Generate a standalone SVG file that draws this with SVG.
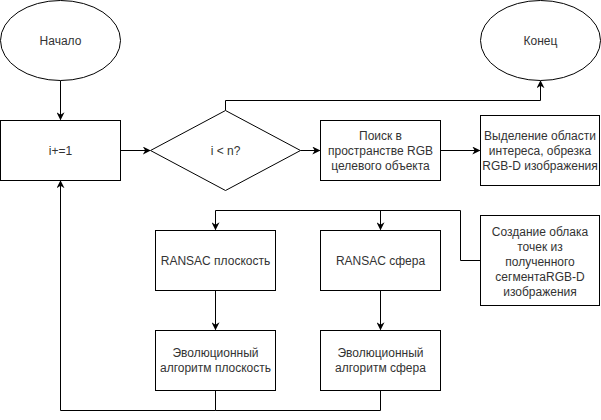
<svg xmlns="http://www.w3.org/2000/svg" width="601" height="420" viewBox="0 0 601 420">
<defs>
<marker id="arr" viewBox="0 0 10 10" refX="9" refY="5" markerWidth="8" markerHeight="8" markerUnits="userSpaceOnUse" orient="auto">
<path d="M0,0 L10,5 L0,10 L3,5 Z" fill="#000"/>
</marker>
</defs>
<style>
.s{fill:#fff;stroke:#000;stroke-width:1}
.c{fill:none;stroke:#000;stroke-width:1}
.a{marker-end:url(#arr)}
text{font-family:"Liberation Sans",Arial,sans-serif;font-size:12px;fill:#333;text-anchor:middle}
</style>
<rect width="601" height="420" fill="#fff"/>
<g id="connectors">
<path class="c a" d="M60.5,80.5 V119.5"/>
<path class="c a" d="M120.5,150.5 H150"/>
<path class="c a" d="M225.5,110.5 V100.5 H540.5 V81"/>
<path class="c a" d="M300.5,150.5 H319.5"/>
<path class="c a" d="M440.5,150.5 H479.5"/>
<path class="c" d="M480.5,260.5 H460.5 V210.5 H215.5"/>
<path class="c a" d="M215.5,210.5 V229.5"/>
<path class="c a" d="M380.5,210.5 V229.5"/>
<path class="c a" d="M215.5,290.5 V329.5"/>
<path class="c a" d="M380.5,290.5 V329.5"/>
<path class="c a" d="M215.5,390.5 V410.5 H60.5 V181"/>
<path class="c" d="M380.5,390.5 V410.5 H215.5"/>
</g>
<g id="start"><ellipse class="s" cx="60.5" cy="40.5" rx="60" ry="40"/><text x="60.5" y="44.5">Начало</text></g>
<g id="end"><ellipse class="s" cx="540.5" cy="40.5" rx="60" ry="40"/><text x="540.5" y="44.5">Конец</text></g>
<g id="inc"><rect class="s" x="0.5" y="120.5" width="120" height="60"/><text x="60.5" y="154.5">i+=1</text></g>
<g id="cond"><path class="s" d="M150.5,150.5 L225.5,110.5 L300.5,150.5 L225.5,190.5 Z"/><text x="225.5" y="154.5">i &lt; n?</text></g>
<g id="search"><rect class="s" x="320.5" y="120.5" width="120" height="60"/><text x="380.5" y="140"><tspan x="380.5">Поиск в</tspan><tspan x="380.5" dy="15">пространстве RGB</tspan><tspan x="380.5" dy="15">целевого объекта</tspan></text></g>
<g id="roi"><rect class="s" x="480.5" y="115.5" width="119" height="70"/><text x="540" y="140"><tspan x="540">Выделение области</tspan><tspan x="540" dy="15">интереса, обрезка</tspan><tspan x="540" dy="15">RGB-D изображения</tspan></text></g>
<g id="cloud"><rect class="s" x="480.5" y="215.5" width="119" height="90"/><text x="540" y="236"><tspan x="540">Создание облака</tspan><tspan x="540" dy="15">точек из</tspan><tspan x="540" dy="15">полученного</tspan><tspan x="540" dy="15">сегментаRGB-D</tspan><tspan x="540" dy="15">изображения</tspan></text></g>
<g id="ransac-plane"><rect class="s" x="155.5" y="230.5" width="120" height="60"/><text x="215.5" y="264.5">RANSAC плоскость</text></g>
<g id="ransac-sphere"><rect class="s" x="320.5" y="230.5" width="120" height="60"/><text x="380.5" y="264.5">RANSAC сфера</text></g>
<g id="evo-plane"><rect class="s" x="155.5" y="330.5" width="120" height="60"/><text x="215.5" y="357"><tspan x="215.5">Эволюционный</tspan><tspan x="215.5" dy="15">алгоритм плоскость</tspan></text></g>
<g id="evo-sphere"><rect class="s" x="320.5" y="330.5" width="120" height="60"/><text x="380.5" y="357"><tspan x="380.5">Эволюционный</tspan><tspan x="380.5" dy="15">алгоритм сфера</tspan></text></g>
</svg>
